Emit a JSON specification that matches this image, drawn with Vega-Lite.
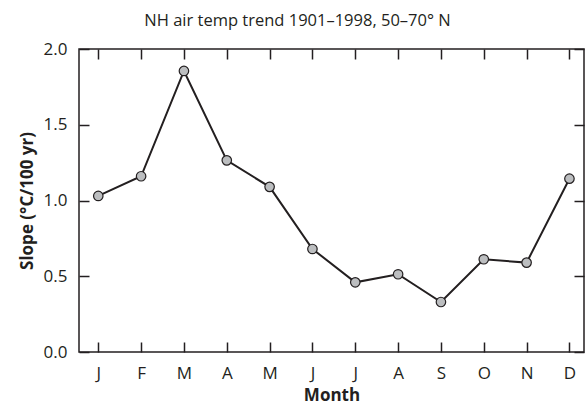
{
  "$schema": "https://vega.github.io/schema/vega-lite/v6.json",
  "width": 505,
  "height": 303,
  "autosize": {"type": "none"},
  "padding": {"left": 79, "top": 49, "right": 2, "bottom": 53},
  "background": "white",
  "title": {
    "text": "NH air temp trend 1901–1998, 50–70° N",
    "font": "Open Sans",
    "fontSize": 16.5,
    "fontWeight": "normal",
    "color": "#231f20",
    "anchor": "middle",
    "dx": -34,
    "offset": 11
  },
  "config": {
    "view": {"stroke": "#231f20", "strokeWidth": 1.5},
    "axis": {
      "labelFont": "Open Sans",
      "labelFontSize": 17,
      "labelColor": "#231f20",
      "titleFont": "Open Sans",
      "titleFontSize": 17,
      "titleFontWeight": "bold",
      "titleColor": "#231f20",
      "tickColor": "#231f20",
      "tickWidth": 1.5,
      "grid": false,
      "domain": false
    }
  },
  "data": {
    "values": [
      {"m": 1, "month": "J", "slope": 1.03},
      {"m": 2, "month": "F", "slope": 1.16},
      {"m": 3, "month": "M", "slope": 1.855},
      {"m": 4, "month": "A", "slope": 1.265},
      {"m": 5, "month": "M", "slope": 1.09},
      {"m": 6, "month": "J", "slope": 0.68},
      {"m": 7, "month": "J", "slope": 0.46},
      {"m": 8, "month": "A", "slope": 0.513},
      {"m": 9, "month": "S", "slope": 0.33},
      {"m": 10, "month": "O", "slope": 0.612},
      {"m": 11, "month": "N", "slope": 0.59},
      {"m": 12, "month": "D", "slope": 1.144}
    ]
  },
  "layer": [
    {
      "mark": {"type": "line", "color": "#231f20", "strokeWidth": 2},
      "encoding": {
        "x": {
          "field": "m", "type": "quantitative",
          "scale": {"domain": [0.55, 12.34], "nice": false, "zero": false},
          "axis": {
            "orient": "bottom",
            "title": "Month",
            "values": [1,2,3,4,5,6,7,8,9,10,11,12],
            "labelExpr": "['J','F','M','A','M','J','J','A','S','O','N','D'][datum.value - 1]",
            "tickSize": -10,
            "labelPadding": 23,
            "titlePadding": 6
          }
        },
        "y": {
          "field": "slope", "type": "quantitative",
          "scale": {"domain": [0, 2], "nice": false},
          "axis": {
            "orient": "left",
            "title": "Slope (°C/100 yr)",
            "values": [0, 0.5, 1, 1.5, 2],
            "format": ".1f",
            "tickSize": -10,
            "labelPadding": 22,
            "titlePadding": 7
          }
        }
      }
    },
    {
      "mark": {"type": "point", "filled": true, "fill": "#bcbec0", "stroke": "#231f20", "strokeWidth": 1.2, "size": 90, "opacity": 1},
      "encoding": {
        "x": {
          "field": "m", "type": "quantitative",
          "axis": {"orient": "top", "title": null, "labels": false, "values": [1,2,3,4,5,6,7,8,9,10,11,12], "tickSize": -10}
        },
        "y": {
          "field": "slope", "type": "quantitative",
          "axis": {"orient": "right", "title": null, "labels": false, "values": [0, 0.5, 1, 1.5, 2], "tickSize": -10}
        }
      }
    }
  ],
  "resolve": {"axis": {"x": "independent", "y": "independent"}}
}
